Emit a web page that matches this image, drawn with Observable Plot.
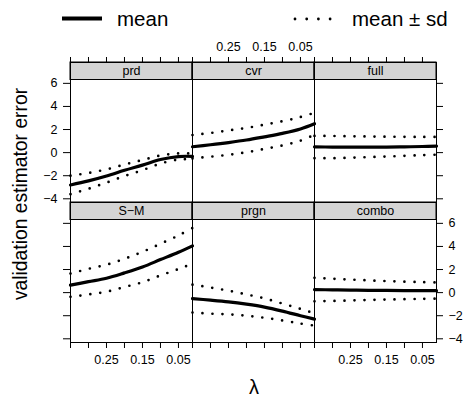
<!DOCTYPE html>
<html><head><meta charset="utf-8">
<script src="https://cdn.jsdelivr.net/npm/d3@7"></script>
<script src="https://cdn.jsdelivr.net/npm/@observablehq/plot@0.6"></script>
<style>
body{margin:0;background:#fff;}
#wrap{position:relative;width:466px;height:398px;font-family:"Liberation Sans",Arial,sans-serif;}
#wrap svg{position:absolute;left:0;top:0;}
</style></head><body><div id="wrap"></div>
<script>
const panels = ["prd", "cvr", "full", "S−M", "prgn", "combo"];
const lambdaGrid = [0.35, 0.30, 0.25, 0.20, 0.15, 0.10, 0.05, 0.011];

const prdMean  = [-2.8, -2.45, -2.03, -1.53, -1.08, -0.6, -0.34, -0.33];
const prdUpper = [-2.0, -1.76, -1.45, -1.03, -0.64, -0.25, -0.07, -0.08];
const prdLower = [-3.6, -3.13, -2.6, -2.03, -1.52, -0.95, -0.6, -0.58];

const cvrMean  = [0.51, 0.68, 0.87, 1.09, 1.37, 1.67, 2.05, 2.5];
const cvrUpper = [1.52, 1.70, 1.92, 2.14, 2.42, 2.72, 3.08, 3.45];
const cvrLower = [-0.5, -0.35, -0.19, 0.03, 0.32, 0.62, 1.03, 1.55];

const fullMean  = [0.5, 0.48, 0.47, 0.47, 0.48, 0.5, 0.53, 0.57];
const fullUpper = [1.45, 1.44, 1.42, 1.40, 1.38, 1.37, 1.36, 1.36];
const fullLower = [-0.48, -0.48, -0.44, -0.39, -0.34, -0.28, -0.22, -0.18];

const smMean  = [0.65, 0.95, 1.25, 1.71, 2.22, 2.86, 3.5, 4.05];
const smUpper = [1.65, 2.06, 2.42, 2.93, 3.53, 4.23, 4.95, 5.6];
const smLower = [-0.36, -0.16, 0.08, 0.49, 0.9, 1.49, 2.04, 2.5];

const prgnMean  = [-0.52, -0.65, -0.8, -1.0, -1.25, -1.6, -2.0, -2.3];
const prgnUpper = [0.69, 0.44, 0.17, -0.16, -0.5, -0.95, -1.41, -1.79];
const prgnLower = [-1.72, -1.82, -1.88, -2.0, -2.18, -2.41, -2.68, -2.86];

const comboMean  = [0.26, 0.24, 0.22, 0.2, 0.19, 0.18, 0.17, 0.17];
const comboUpper = [1.28, 1.2, 1.13, 1.06, 1.0, 0.95, 0.91, 0.88];
const comboLower = [-0.75, -0.72, -0.68, -0.64, -0.6, -0.57, -0.54, -0.52];

const xTickValues = [0.35, 0.30, 0.25, 0.20, 0.15, 0.10, 0.05];
const xLabelValues = [0.25, 0.15, 0.05];
const yTickValues = [-4, -2, 0, 2, 4, 6];

// layout
const yPanelBottom = -4.32, yPanelTop = 6.29;
const panelPx = 122.5, stripPx = 17.5;
const yMax = yPanelTop + stripPx * (yPanelTop - yPanelBottom) / panelPx;

const seriesList = [
  [prdMean, prdUpper, prdLower], [cvrMean, cvrUpper, cvrLower], [fullMean, fullUpper, fullLower],
  [smMean, smUpper, smLower], [prgnMean, prgnUpper, prgnLower], [comboMean, comboUpper, comboLower]
];
const panelData = panels.map((name, i) => ({name, col: i % 3, row: Math.floor(i / 3)}));
const rows = [];
panelData.forEach((p, i) => {
  const [m, u, l] = seriesList[i];
  lambdaGrid.forEach((lam, j) => rows.push({...p, lambda: lam, mean: m[j], upper: u[j], lower: l[j]}));
});

const fmtY = v => v < 0 ? "\u2212" + Math.abs(v) : String(v);
const topLabels = xLabelValues.map(v => ({v, col: 1, row: 0}));
const bottomLabels = [0, 2].flatMap(col => xLabelValues.map(v => ({v, col, row: 1})));
const leftLabels = yTickValues.map(v => ({v, col: 0, row: 0}));
const rightLabels = yTickValues.map(v => ({v, col: 2, row: 1}));

const fs = 12.5;
const dotted = {strokeDasharray: "0 10", strokeLinecap: "round", strokeWidth: 2.7, stroke: "black"};

const chart = Plot.plot({
  width: 466, height: 398,
  marginLeft: 70, marginRight: 30, marginTop: 62, marginBottom: 56,
  x: {domain: [0.35, 0.011]},
  y: {domain: [yPanelBottom, yMax]},
  fx: {domain: [0, 1, 2], padding: 0, axis: null},
  fy: {domain: [0, 1], padding: 0, axis: null},
  style: {fontFamily: '"Liberation Sans", Arial, sans-serif', color: "black", background: "white"},
  marks: [
    Plot.rect(panelData, {fx: "col", fy: "row", y1: yPanelTop, y2: yMax, fill: "#d4d4d4", stroke: "black"}),
    Plot.text(panelData, {fx: "col", fy: "row", text: "name", frameAnchor: "top", lineAnchor: "middle", dy: stripPx / 2, fontSize: fs, fill: "black"}),
    Plot.line(rows, {fx: "col", fy: "row", x: "lambda", y: "upper", z: "name", curve: "catmull-rom", ...dotted}),
    Plot.line(rows, {fx: "col", fy: "row", x: "lambda", y: "lower", z: "name", curve: "catmull-rom", ...dotted}),
    Plot.line(rows, {fx: "col", fy: "row", x: "lambda", y: "mean", z: "name", curve: "catmull-rom", strokeWidth: 3.2, stroke: "black"}),
    Plot.frame({stroke: "black"}),
    Plot.axisX({anchor: "top", ticks: xTickValues, tickSize: 6, tickFormat: () => "", label: null}),
    Plot.axisX({anchor: "bottom", ticks: xTickValues, tickSize: 6, tickFormat: () => "", label: null}),
    Plot.axisY({anchor: "left", ticks: yTickValues, tickSize: 7, tickFormat: () => "", label: null}),
    Plot.axisY({anchor: "right", ticks: yTickValues, tickSize: 6, tickFormat: () => "", label: null}),
    Plot.text(topLabels, {fx: "col", fy: "row", x: "v", text: d => d.v.toFixed(2), frameAnchor: "top", lineAnchor: "middle", dy: -16, fontSize: fs, fill: "black"}),
    Plot.text(bottomLabels, {fx: "col", fy: "row", x: "v", text: d => d.v.toFixed(2), frameAnchor: "bottom", lineAnchor: "middle", dy: 17, fontSize: fs, fill: "black"}),
    Plot.text(leftLabels, {fx: "col", fy: "row", y: "v", text: d => fmtY(d.v), frameAnchor: "left", textAnchor: "end", dx: -13, fontSize: fs, fill: "black"}),
    Plot.text(rightLabels, {fx: "col", fy: "row", y: "v", text: d => fmtY(d.v), frameAnchor: "right", textAnchor: "start", dx: 12, fontSize: fs, fill: "black"})
  ]
});
const wrap = document.getElementById("wrap");
wrap.appendChild(chart);

// titles
const svg = d3.select(chart);
svg.append("text").attr("transform", "translate(27,194) rotate(-90)")
  .attr("text-anchor", "middle").attr("font-size", 19.3).attr("fill", "black")
  .text("validation estimator error");
svg.append("text").attr("x", 254).attr("y", 387).attr("dy", "0.35em")
  .attr("text-anchor", "middle").attr("font-size", 20).attr("fill", "black")
  .text("λ");

// legend
const leg = d3.select(wrap).append("svg").attr("width", 466).attr("height", 40)
  .style("font-family", '"Liberation Sans", Arial, sans-serif');
leg.append("line").attr("x1", 62).attr("x2", 102).attr("y1", 18.5).attr("y2", 18.5)
  .attr("stroke", "black").attr("stroke-width", 4);
leg.append("text").attr("x", 117).attr("y", 18.5).attr("dy", "0.35em").attr("font-size", 20.5).text("mean");
leg.append("line").attr("x1", 295).attr("x2", 331).attr("y1", 19).attr("y2", 19)
  .attr("stroke", "black").attr("stroke-width", 2.8).attr("stroke-linecap", "round").attr("stroke-dasharray", "0 11.7");
leg.append("text").attr("x", 352).attr("y", 18.5).attr("dy", "0.35em").attr("font-size", 20.5).text("mean ± sd");
</script></body></html>
